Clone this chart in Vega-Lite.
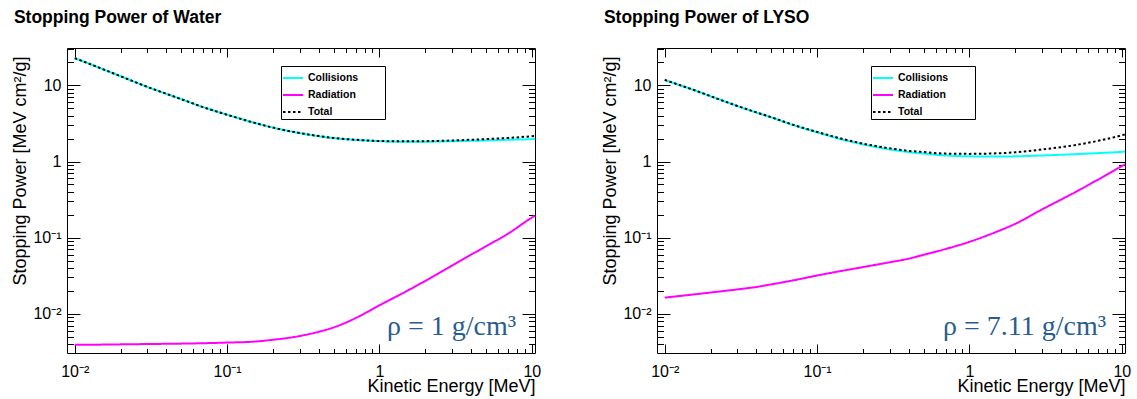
{
  "$schema": "https://vega.github.io/schema/vega-lite/v6.json",
  "background": "white",
  "padding": {"left": 11, "top": 8, "right": 0, "bottom": 0},
  "datasets": {
    "water": [
      {"E": 0.01, "S": 22.8, "s": "Collisions"}, {"E": 0.0125, "S": 19.2, "s": "Collisions"}, {"E": 0.015, "S": 16.6, "s": "Collisions"}, {"E": 0.02, "S": 13.2, "s": "Collisions"}, {"E": 0.03, "S": 9.55, "s": "Collisions"}, {"E": 0.04, "S": 7.75, "s": "Collisions"}, {"E": 0.05, "S": 6.6, "s": "Collisions"}, {"E": 0.07, "S": 5.16, "s": "Collisions"}, {"E": 0.1, "S": 4.12, "s": "Collisions"}, {"E": 0.15, "S": 3.24, "s": "Collisions"}, {"E": 0.2, "S": 2.79, "s": "Collisions"}, {"E": 0.3, "S": 2.36, "s": "Collisions"}, {"E": 0.4, "S": 2.15, "s": "Collisions"}, {"E": 0.5, "S": 2.03, "s": "Collisions"}, {"E": 0.7, "S": 1.92, "s": "Collisions"}, {"E": 1, "S": 1.85, "s": "Collisions"}, {"E": 1.5, "S": 1.82, "s": "Collisions"}, {"E": 2, "S": 1.82, "s": "Collisions"}, {"E": 3, "S": 1.85, "s": "Collisions"}, {"E": 5, "S": 1.89, "s": "Collisions"}, {"E": 7, "S": 1.93, "s": "Collisions"}, {"E": 10, "S": 1.97, "s": "Collisions"}, {"E": 10.5, "S": 1.98, "s": "Collisions"},
      {"E": 0.01, "S": 0.0039, "s": "Radiation"}, {"E": 0.015, "S": 0.00393, "s": "Radiation"}, {"E": 0.02, "S": 0.00396, "s": "Radiation"}, {"E": 0.03, "S": 0.004, "s": "Radiation"}, {"E": 0.05, "S": 0.00405, "s": "Radiation"}, {"E": 0.07, "S": 0.0041, "s": "Radiation"}, {"E": 0.1, "S": 0.00418, "s": "Radiation"}, {"E": 0.15, "S": 0.0043, "s": "Radiation"}, {"E": 0.2, "S": 0.00455, "s": "Radiation"}, {"E": 0.3, "S": 0.0051, "s": "Radiation"}, {"E": 0.4, "S": 0.0058, "s": "Radiation"}, {"E": 0.5, "S": 0.0066, "s": "Radiation"}, {"E": 0.7, "S": 0.0088, "s": "Radiation"}, {"E": 1, "S": 0.0129, "s": "Radiation"}, {"E": 1.5, "S": 0.0197, "s": "Radiation"}, {"E": 2, "S": 0.027, "s": "Radiation"}, {"E": 3, "S": 0.043, "s": "Radiation"}, {"E": 5, "S": 0.077, "s": "Radiation"}, {"E": 7, "S": 0.113, "s": "Radiation"}, {"E": 10, "S": 0.183, "s": "Radiation"}, {"E": 10.5, "S": 0.194, "s": "Radiation"},
      {"E": 0.01, "S": 22.8, "s": "Total"}, {"E": 0.0125, "S": 19.2, "s": "Total"}, {"E": 0.015, "S": 16.6, "s": "Total"}, {"E": 0.02, "S": 13.2, "s": "Total"}, {"E": 0.03, "S": 9.55, "s": "Total"}, {"E": 0.04, "S": 7.75, "s": "Total"}, {"E": 0.05, "S": 6.6, "s": "Total"}, {"E": 0.07, "S": 5.16, "s": "Total"}, {"E": 0.1, "S": 4.12, "s": "Total"}, {"E": 0.15, "S": 3.24, "s": "Total"}, {"E": 0.2, "S": 2.79, "s": "Total"}, {"E": 0.3, "S": 2.37, "s": "Total"}, {"E": 0.4, "S": 2.16, "s": "Total"}, {"E": 0.5, "S": 2.04, "s": "Total"}, {"E": 0.7, "S": 1.93, "s": "Total"}, {"E": 1, "S": 1.86, "s": "Total"}, {"E": 1.5, "S": 1.84, "s": "Total"}, {"E": 2, "S": 1.85, "s": "Total"}, {"E": 3, "S": 1.89, "s": "Total"}, {"E": 5, "S": 1.97, "s": "Total"}, {"E": 7, "S": 2.04, "s": "Total"}, {"E": 10, "S": 2.15, "s": "Total"}, {"E": 10.5, "S": 2.17, "s": "Total"}
    ],
    "lyso": [
      {"E": 0.01, "S": 11.8, "s": "Collisions"}, {"E": 0.0125, "S": 10.1, "s": "Collisions"}, {"E": 0.015, "S": 8.9, "s": "Collisions"}, {"E": 0.02, "S": 7.2, "s": "Collisions"}, {"E": 0.03, "S": 5.35, "s": "Collisions"}, {"E": 0.04, "S": 4.4, "s": "Collisions"}, {"E": 0.05, "S": 3.8, "s": "Collisions"}, {"E": 0.07, "S": 3.0, "s": "Collisions"}, {"E": 0.1, "S": 2.42, "s": "Collisions"}, {"E": 0.15, "S": 1.92, "s": "Collisions"}, {"E": 0.2, "S": 1.68, "s": "Collisions"}, {"E": 0.3, "S": 1.44, "s": "Collisions"}, {"E": 0.4, "S": 1.33, "s": "Collisions"}, {"E": 0.5, "S": 1.27, "s": "Collisions"}, {"E": 0.7, "S": 1.2, "s": "Collisions"}, {"E": 1, "S": 1.17, "s": "Collisions"}, {"E": 1.5, "S": 1.16, "s": "Collisions"}, {"E": 2, "S": 1.17, "s": "Collisions"}, {"E": 3, "S": 1.2, "s": "Collisions"}, {"E": 5, "S": 1.25, "s": "Collisions"}, {"E": 7, "S": 1.29, "s": "Collisions"}, {"E": 10, "S": 1.34, "s": "Collisions"}, {"E": 10.5, "S": 1.35, "s": "Collisions"},
      {"E": 0.01, "S": 0.0163, "s": "Radiation"}, {"E": 0.015, "S": 0.0178, "s": "Radiation"}, {"E": 0.02, "S": 0.019, "s": "Radiation"}, {"E": 0.03, "S": 0.0209, "s": "Radiation"}, {"E": 0.04, "S": 0.0225, "s": "Radiation"}, {"E": 0.05, "S": 0.0243, "s": "Radiation"}, {"E": 0.07, "S": 0.0275, "s": "Radiation"}, {"E": 0.1, "S": 0.0318, "s": "Radiation"}, {"E": 0.15, "S": 0.037, "s": "Radiation"}, {"E": 0.2, "S": 0.041, "s": "Radiation"}, {"E": 0.3, "S": 0.0475, "s": "Radiation"}, {"E": 0.4, "S": 0.053, "s": "Radiation"}, {"E": 0.5, "S": 0.0595, "s": "Radiation"}, {"E": 0.7, "S": 0.071, "s": "Radiation"}, {"E": 1, "S": 0.088, "s": "Radiation"}, {"E": 1.5, "S": 0.119, "s": "Radiation"}, {"E": 2, "S": 0.152, "s": "Radiation"}, {"E": 3, "S": 0.235, "s": "Radiation"}, {"E": 5, "S": 0.4, "s": "Radiation"}, {"E": 7, "S": 0.58, "s": "Radiation"}, {"E": 10, "S": 0.87, "s": "Radiation"}, {"E": 10.5, "S": 0.92, "s": "Radiation"},
      {"E": 0.01, "S": 11.82, "s": "Total"}, {"E": 0.0125, "S": 10.12, "s": "Total"}, {"E": 0.015, "S": 8.92, "s": "Total"}, {"E": 0.02, "S": 7.22, "s": "Total"}, {"E": 0.03, "S": 5.37, "s": "Total"}, {"E": 0.04, "S": 4.42, "s": "Total"}, {"E": 0.05, "S": 3.82, "s": "Total"}, {"E": 0.07, "S": 3.03, "s": "Total"}, {"E": 0.1, "S": 2.45, "s": "Total"}, {"E": 0.15, "S": 1.96, "s": "Total"}, {"E": 0.2, "S": 1.72, "s": "Total"}, {"E": 0.3, "S": 1.49, "s": "Total"}, {"E": 0.4, "S": 1.38, "s": "Total"}, {"E": 0.5, "S": 1.33, "s": "Total"}, {"E": 0.7, "S": 1.27, "s": "Total"}, {"E": 1, "S": 1.26, "s": "Total"}, {"E": 1.5, "S": 1.28, "s": "Total"}, {"E": 2, "S": 1.32, "s": "Total"}, {"E": 3, "S": 1.44, "s": "Total"}, {"E": 5, "S": 1.65, "s": "Total"}, {"E": 7, "S": 1.87, "s": "Total"}, {"E": 10, "S": 2.21, "s": "Total"}, {"E": 10.5, "S": 2.27, "s": "Total"}
    ],
    "noteW": [{"E": 7.9, "S": 0.0053, "t": "ρ = 1 g/cm³"}],
    "noteL": [{"E": 7.9, "S": 0.0053, "t": "ρ = 7.11 g/cm³"}]
  },
  "hconcat": [
    {
      "title": {"text": "Stopping Power of Water"},
      "width": 468,
      "height": 305,
      "layer": [
        {
          "data": {"name": "water"},
          "mark": {"type": "line", "strokeWidth": 2, "interpolate": "monotone"},
          "encoding": {
            "x": {"field": "E", "type": "quantitative", "scale": {"type": "log", "domain": [0.0089, 10.5], "nice": false},
              "axis": {"orient": "bottom", "values": [0.01, 0.1, 1, 10], "labelExpr": "datum.value < 0.05 ? '10⁻²' : datum.value < 0.5 ? '10⁻¹' : datum.value < 5 ? '1' : '10'", "tickSize": -9, "labelPadding": 19, "labelFlush": false, "title": "Kinetic Energy [MeV]", "titleAnchor": "end", "titleAlign": "right", "titlePadding": -2}},
            "y": {"field": "S", "type": "quantitative", "scale": {"type": "log", "domain": [0.00305, 31], "nice": false},
              "axis": {"orient": "left", "values": [0.01, 0.1, 1, 10], "labelExpr": "datum.value < 0.05 ? '10⁻²' : datum.value < 0.5 ? '10⁻¹' : datum.value < 5 ? '1' : '10'", "tickSize": -13, "labelPadding": 19, "labelFlush": false, "title": "Stopping Power [MeV cm²/g]", "titleAnchor": "end", "titleAlign": "right", "titleY": 8, "titlePadding": 3}},
            "color": {"field": "s", "type": "nominal", "scale": {"domain": ["Collisions", "Radiation", "Total"], "range": ["#00ffff", "#ff00ff", "#000000"]}, "legend": {"title": null, "labelExpr": "datum.label + '      \u2800'"}},
            "strokeDash": {"field": "s", "type": "nominal", "scale": {"domain": ["Collisions", "Radiation", "Total"], "range": [[1, 0], [1, 0], [2.5, 2.5]]}, "legend": {"title": null, "labelExpr": "datum.label + '      \u2800'"}}
          }
        },
        {
          "data": {"name": "noteW"},
          "mark": {"type": "text", "align": "right", "baseline": "alphabetic", "font": "Liberation Serif", "fontSize": 28, "color": "#2a5d8f"},
          "encoding": {
            "x": {"field": "E", "type": "quantitative", "scale": {"type": "log", "domain": [0.0089, 10.5], "nice": false},
              "axis": {"orient": "bottom", "values": [0.02, 0.03, 0.04, 0.05, 0.06, 0.07, 0.08, 0.09, 0.2, 0.3, 0.4, 0.5, 0.6, 0.7, 0.8, 0.9, 2, 3, 4, 5, 6, 7, 8, 9], "tickSize": -4.5, "labels": false, "title": null}},
            "y": {"field": "S", "type": "quantitative", "scale": {"type": "log", "domain": [0.00305, 31], "nice": false},
              "axis": {"orient": "left", "values": [0.004, 0.005, 0.006, 0.007, 0.008, 0.009, 0.02, 0.03, 0.04, 0.05, 0.06, 0.07, 0.08, 0.09, 0.2, 0.3, 0.4, 0.5, 0.6, 0.7, 0.8, 0.9, 2, 3, 4, 5, 6, 7, 8, 9, 20, 30], "tickSize": -6.5, "labels": false, "title": null}},
            "text": {"field": "t"}
          }
        },
        {
          "data": {"name": "noteW"},
          "mark": {"type": "point", "opacity": 0},
          "encoding": {
            "x": {"field": "E", "type": "quantitative", "scale": {"type": "log", "domain": [0.0089, 10.5], "nice": false},
              "axis": {"orient": "top", "values": [0.01, 0.1, 1, 10], "tickSize": -9, "labels": false, "title": null}},
            "y": {"field": "S", "type": "quantitative", "scale": {"type": "log", "domain": [0.00305, 31], "nice": false},
              "axis": {"orient": "right", "values": [0.01, 0.1, 1, 10], "tickSize": -13, "labels": false, "title": null}}
          }
        },
        {
          "data": {"name": "noteW"},
          "mark": {"type": "point", "opacity": 0},
          "encoding": {
            "x": {"field": "E", "type": "quantitative", "scale": {"type": "log", "domain": [0.0089, 10.5], "nice": false},
              "axis": {"orient": "top", "values": [0.02, 0.03, 0.04, 0.05, 0.06, 0.07, 0.08, 0.09, 0.2, 0.3, 0.4, 0.5, 0.6, 0.7, 0.8, 0.9, 2, 3, 4, 5, 6, 7, 8, 9], "tickSize": -4.5, "labels": false, "title": null}},
            "y": {"field": "S", "type": "quantitative", "scale": {"type": "log", "domain": [0.00305, 31], "nice": false},
              "axis": {"orient": "right", "values": [0.004, 0.005, 0.006, 0.007, 0.008, 0.009, 0.02, 0.03, 0.04, 0.05, 0.06, 0.07, 0.08, 0.09, 0.2, 0.3, 0.4, 0.5, 0.6, 0.7, 0.8, 0.9, 2, 3, 4, 5, 6, 7, 8, 9, 20, 30], "tickSize": -6.5, "labels": false, "title": null}}
          }
        }
      ],
      "resolve": {"axis": {"x": "independent", "y": "independent"}}
    },
    {
      "title": {"text": "Stopping Power of LYSO"},
      "width": 468,
      "height": 305,
      "layer": [
        {
          "data": {"name": "lyso"},
          "mark": {"type": "line", "strokeWidth": 2, "interpolate": "monotone"},
          "encoding": {
            "x": {"field": "E", "type": "quantitative", "scale": {"type": "log", "domain": [0.0089, 10.5], "nice": false},
              "axis": {"orient": "bottom", "values": [0.01, 0.1, 1, 10], "labelExpr": "datum.value < 0.05 ? '10⁻²' : datum.value < 0.5 ? '10⁻¹' : datum.value < 5 ? '1' : '10'", "tickSize": -9, "labelPadding": 19, "labelFlush": false, "title": "Kinetic Energy [MeV]", "titleAnchor": "end", "titleAlign": "right", "titlePadding": -2}},
            "y": {"field": "S", "type": "quantitative", "scale": {"type": "log", "domain": [0.00305, 31], "nice": false},
              "axis": {"orient": "left", "values": [0.01, 0.1, 1, 10], "labelExpr": "datum.value < 0.05 ? '10⁻²' : datum.value < 0.5 ? '10⁻¹' : datum.value < 5 ? '1' : '10'", "tickSize": -13, "labelPadding": 19, "labelFlush": false, "title": "Stopping Power [MeV cm²/g]", "titleAnchor": "end", "titleAlign": "right", "titleY": 8, "titlePadding": 3}},
            "color": {"field": "s", "type": "nominal", "scale": {"domain": ["Collisions", "Radiation", "Total"], "range": ["#00ffff", "#ff00ff", "#000000"]}, "legend": {"title": null, "labelExpr": "datum.label + '      \u2800'"}},
            "strokeDash": {"field": "s", "type": "nominal", "scale": {"domain": ["Collisions", "Radiation", "Total"], "range": [[1, 0], [1, 0], [2.5, 2.5]]}, "legend": {"title": null, "labelExpr": "datum.label + '      \u2800'"}}
          }
        },
        {
          "data": {"name": "noteL"},
          "mark": {"type": "text", "align": "right", "baseline": "alphabetic", "font": "Liberation Serif", "fontSize": 28, "color": "#2a5d8f"},
          "encoding": {
            "x": {"field": "E", "type": "quantitative", "scale": {"type": "log", "domain": [0.0089, 10.5], "nice": false},
              "axis": {"orient": "bottom", "values": [0.02, 0.03, 0.04, 0.05, 0.06, 0.07, 0.08, 0.09, 0.2, 0.3, 0.4, 0.5, 0.6, 0.7, 0.8, 0.9, 2, 3, 4, 5, 6, 7, 8, 9], "tickSize": -4.5, "labels": false, "title": null}},
            "y": {"field": "S", "type": "quantitative", "scale": {"type": "log", "domain": [0.00305, 31], "nice": false},
              "axis": {"orient": "left", "values": [0.004, 0.005, 0.006, 0.007, 0.008, 0.009, 0.02, 0.03, 0.04, 0.05, 0.06, 0.07, 0.08, 0.09, 0.2, 0.3, 0.4, 0.5, 0.6, 0.7, 0.8, 0.9, 2, 3, 4, 5, 6, 7, 8, 9, 20, 30], "tickSize": -6.5, "labels": false, "title": null}},
            "text": {"field": "t"}
          }
        },
        {
          "data": {"name": "noteL"},
          "mark": {"type": "point", "opacity": 0},
          "encoding": {
            "x": {"field": "E", "type": "quantitative", "scale": {"type": "log", "domain": [0.0089, 10.5], "nice": false},
              "axis": {"orient": "top", "values": [0.01, 0.1, 1, 10], "tickSize": -9, "labels": false, "title": null}},
            "y": {"field": "S", "type": "quantitative", "scale": {"type": "log", "domain": [0.00305, 31], "nice": false},
              "axis": {"orient": "right", "values": [0.01, 0.1, 1, 10], "tickSize": -13, "labels": false, "title": null}}
          }
        },
        {
          "data": {"name": "noteL"},
          "mark": {"type": "point", "opacity": 0},
          "encoding": {
            "x": {"field": "E", "type": "quantitative", "scale": {"type": "log", "domain": [0.0089, 10.5], "nice": false},
              "axis": {"orient": "top", "values": [0.02, 0.03, 0.04, 0.05, 0.06, 0.07, 0.08, 0.09, 0.2, 0.3, 0.4, 0.5, 0.6, 0.7, 0.8, 0.9, 2, 3, 4, 5, 6, 7, 8, 9], "tickSize": -4.5, "labels": false, "title": null}},
            "y": {"field": "S", "type": "quantitative", "scale": {"type": "log", "domain": [0.00305, 31], "nice": false},
              "axis": {"orient": "right", "values": [0.004, 0.005, 0.006, 0.007, 0.008, 0.009, 0.02, 0.03, 0.04, 0.05, 0.06, 0.07, 0.08, 0.09, 0.2, 0.3, 0.4, 0.5, 0.6, 0.7, 0.8, 0.9, 2, 3, 4, 5, 6, 7, 8, 9, 20, 30], "tickSize": -6.5, "labels": false, "title": null}}
          }
        }
      ],
      "resolve": {"axis": {"x": "independent", "y": "independent"}}
    }
  ],
  "spacing": 59,
  "resolve": {"scale": {"color": "independent", "strokeDash": "independent"}},
  "config": {
    "view": {"stroke": "black", "strokeWidth": 1},
    "axis": {"domain": false, "grid": false, "tickColor": "black", "tickWidth": 1, "labelColor": "black", "titleColor": "black", "labelFont": "Liberation Sans", "labelFontSize": 16, "titleFont": "Liberation Sans", "titleFontSize": 18, "titleFontWeight": "normal"},
    "title": {"anchor": "start", "frame": "bounds", "font": "Liberation Sans", "fontSize": 17.5, "fontWeight": "bold", "color": "black", "offset": 21, "dx": 2},
    "legend": {"orient": "none", "legendX": 214, "legendY": 18, "fillColor": "white", "strokeColor": "black", "padding": 1, "rowPadding": 0, "symbolType": "stroke", "symbolSize": 400, "symbolStrokeWidth": 2, "labelFont": "Liberation Sans", "labelFontSize": 10.5, "labelFontWeight": "bold", "labelColor": "black", "labelOffset": 4}
  }
}
